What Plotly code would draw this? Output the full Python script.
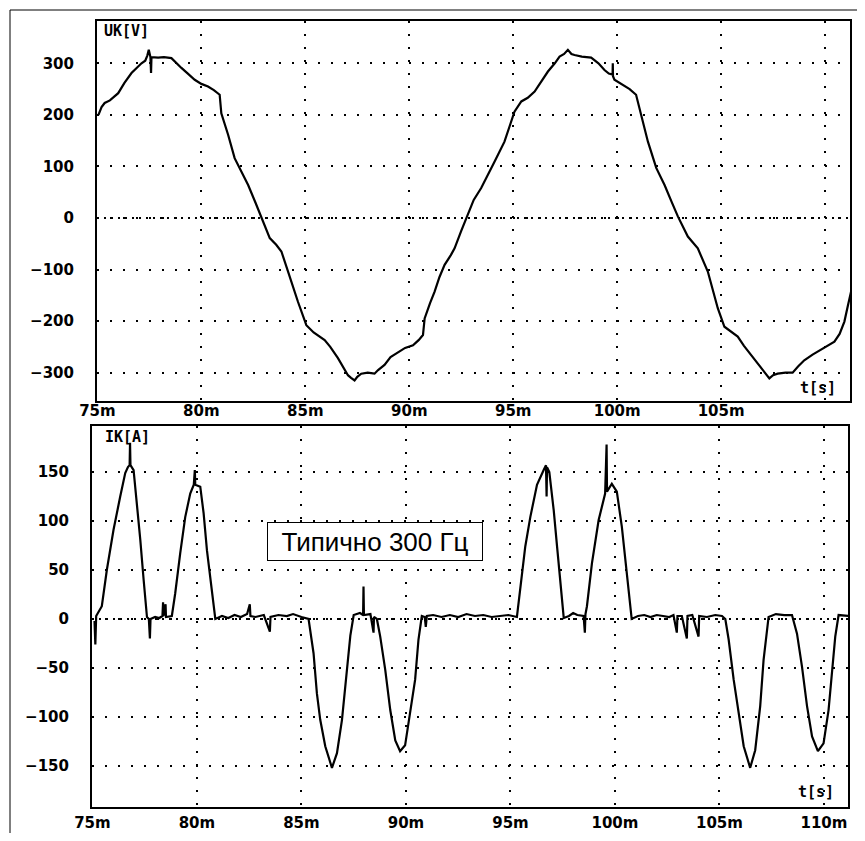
import plotly.graph_objects as go

# The page body has an 8px default margin, so the figure is drawn 8px smaller
# on each side and reference pixel positions are shifted by that offset.
OFF = 8
W, H = 865 - 2 * OFF, 841 - 2 * OFF


def px(x):
    return (x - OFF) / W


def py(y):
    return 1 - (y - OFF) / H


# ---- Voltage trace UK [V] vs time [ms] ----
u_t = [75.05, 75.1, 75.2, 75.35, 75.6, 76.0, 76.3, 76.64, 76.9, 77.12, 77.3, 77.4, 77.47, 77.55, 77.58,
       77.6, 77.92, 78.2, 78.56, 78.8, 79.04, 79.35, 79.68, 80.0, 80.32, 80.6, 80.88, 80.96, 81.29, 81.6,
       81.9, 82.25, 82.6, 82.89, 83.1, 83.29, 83.6, 83.85, 84.17, 84.4, 84.65, 85.05, 85.4, 85.93, 86.2,
       86.57, 87.05, 87.2, 87.37, 87.5, 87.69, 88.0, 88.33, 88.5, 88.81, 89.1, 89.46, 89.8, 90.18, 90.45,
       90.66, 90.74, 91.0, 91.22, 91.45, 91.7, 92.0, 92.18, 92.5, 92.82, 93.1, 93.46, 93.62, 94.1, 94.58,
       95.06, 95.39, 95.7, 96.03, 96.3, 96.67, 97.0, 97.23, 97.45, 97.63, 97.8, 97.95, 98.3, 98.75, 99.1,
       99.39, 99.6, 99.78, 99.79, 99.8, 99.87, 100.1, 100.35, 100.6, 100.91, 101.15, 101.48, 101.88, 102.28,
       102.6, 102.92, 103.4, 103.88, 104.36, 104.6, 104.84, 105.16, 105.5, 105.8, 106.1, 106.44, 107.0,
       107.32, 107.5, 107.72, 108.1, 108.44, 108.7, 109.0, 109.4, 109.8, 110.2, 110.45, 110.7, 110.93,
       111.1, 111.25]
u_v = [200, 206, 215, 223, 228, 242, 262, 281, 292, 300, 305, 315, 326, 312, 281,
       312, 311, 312, 310, 300, 291, 280, 268, 260, 255, 248, 239, 203, 161, 116,
       92, 64, 30, 0, -22, -39, -52, -65, -104, -133, -163, -208, -222, -237, -250,
       -272, -305, -310, -315, -308, -302, -300, -302, -295, -285, -270, -260, -252, -247, -237,
       -227, -195, -165, -143, -115, -91, -72, -59, -25, 6, 35, 58, 70, 109, 148,
       206, 226, 233, 245, 262, 284, 300, 313, 318, 326, 318, 316, 313, 311, 300,
       287, 280, 278, 300, 275, 268, 262, 255, 250, 239, 200, 148, 97, 64,
       33, 3, -36, -59, -104, -140, -175, -211, -222, -230, -248, -266, -295,
       -311, -305, -302, -300, -300, -288, -276, -265, -256, -247, -240, -225, -201,
       -170, -143]

# ---- Current trace IK [A] vs time [ms] ----
i_t = [75.1, 75.14, 75.18, 75.45, 75.69, 76.01, 76.33, 76.57, 76.7, 76.78, 76.8, 76.82, 76.97, 77.13,
       77.29, 77.45, 77.61, 77.7, 77.75, 77.78, 78.0, 78.2, 78.35, 78.38, 78.4, 78.5, 78.52, 78.8, 78.96,
       79.2, 79.44, 79.68, 79.85, 79.9, 79.92, 80.16, 80.32, 80.48, 80.72, 80.88, 81.2, 81.5, 81.8, 82.1,
       82.4, 82.53, 82.56, 82.8, 83.2, 83.49, 83.52, 83.9, 84.3, 84.6, 85.0, 85.34, 85.58, 85.74, 85.9,
       86.14, 86.46, 86.7, 86.94, 87.18, 87.34, 87.5, 87.8, 87.95, 87.97, 87.99, 88.3, 88.45, 88.47, 88.61,
       88.77, 89.01, 89.25, 89.49, 89.72, 89.96, 90.2, 90.44, 90.6, 90.76, 90.9, 90.95, 91.0, 91.3, 91.7,
       92.1, 92.5, 92.9, 93.3, 93.7, 94.1, 94.5, 94.9, 95.31, 95.47, 95.71, 95.95, 96.27, 96.59, 96.7,
       96.73, 96.75, 96.86, 97.07, 97.23, 97.39, 97.55, 97.8, 98.0, 98.2, 98.5, 98.56, 98.59, 98.66, 98.9,
       99.22, 99.53, 99.6, 99.62, 99.85, 100.09, 100.33, 100.52, 100.73, 100.8, 101.1, 101.4, 101.7, 102.0,
       102.3, 102.6, 102.8, 102.96, 102.99, 103.2, 103.44, 103.47, 103.7, 104.0, 104.03, 104.4, 104.8,
       105.12, 105.28, 105.44, 105.68, 105.92, 106.16, 106.47, 106.71, 106.95, 107.11, 107.35, 107.7,
       108.1, 108.47, 108.71, 108.95, 109.19, 109.43, 109.71, 109.98, 110.22, 110.38, 110.54, 110.7,
       111.0, 111.2]
i_a = [-2, -26, 3, 13, 50, 91, 125, 149, 155, 157, 180, 157, 152, 118,
       81, 40, 2, 0, -20, 0, 2, 1, 3, 17, 3, 15, 2, 3, 26,
       67, 104, 128, 137, 152, 137, 135, 108, 70, 31, 0, 3, 1, 4, 2,
       5, 15, 3, 2, 4, -13, 2, 4, 3, 5, 2, 0, -35, -76, -103,
       -130, -152, -137, -103, -55, -17, 4, 6, 4, 33, 4, 5, -14, 2, 0,
       -18, -52, -93, -124, -135, -129, -96, -62, -21, 3, 2, -8, 3, 4, 2,
       4, 2, 5, 3, 4, 2, 3, 4, 2, 30, 74, 104, 137, 152, 157,
       125, 155, 150, 111, 74, 33, 1, 3, 6, 4, 3, -14, 5, 13, 57,
       101, 128, 178, 130, 138, 130, 94, 57, 12, 0, 3, 4, 2, 4,
       3, 2, 4, -14, 3, 3, -20, 3, 4, -18, 3, 2, 4,
       3, 0, -21, -62, -96, -130, -152, -134, -89, -42, 2, 5,
       4, 4, -15, -49, -89, -120, -135, -127, -93, -59, -18, 4,
       3, 3]

x_ticks = [75, 80, 85, 90, 95, 100, 105, 110]
x_labels_top = ["75m", "80m", "85m", "90m", "95m", "100m", "105m", ""]
x_labels_bottom = ["75m", "80m", "85m", "90m", "95m", "100m", "105m", "110m"]
u_ticks = [-300, -200, -100, 0, 100, 200, 300]
i_ticks = [-150, -100, -50, 0, 50, 100, 150]

fig = go.Figure()
fig.add_trace(go.Scatter(x=u_t, y=u_v, mode="lines", line=dict(color="black", width=2.2),
                         xaxis="x", yaxis="y", hoverinfo="skip"))
fig.add_trace(go.Scatter(x=i_t, y=i_a, mode="lines", line=dict(color="black", width=2.2),
                         xaxis="x2", yaxis="y2", hoverinfo="skip"))

tickfont = dict(family="DejaVu Sans", size=15, color="black", weight="bold")
common = dict(showline=True, linecolor="black", linewidth=2, mirror=True,
              showgrid=True, gridcolor="black", gridwidth=2, griddash="2px,11px",
              zeroline=False, ticks="", tickfont=tickfont, fixedrange=True, automargin=False)

fig.update_layout(
    width=W, height=H,
    margin=dict(l=0, r=0, t=0, b=0),
    paper_bgcolor="white", plot_bgcolor="white",
    showlegend=False,
    xaxis=dict(domain=[px(97), px(850)], range=[74.98, 111.2], tickmode="array",
               tickvals=x_ticks, ticktext=x_labels_top, anchor="y", ticklabelstandoff=-5, **common),
    yaxis=dict(domain=[py(401), py(21)], range=[-355, 382], tickmode="array",
               tickvals=u_ticks, anchor="x", ticklabelstandoff=18, **common),
    xaxis2=dict(domain=[px(92), px(848)], range=[74.98, 111.15], tickmode="array",
                tickvals=x_ticks, ticktext=x_labels_bottom, anchor="y2", ticklabelstandoff=1, **common),
    yaxis2=dict(domain=[py(807), py(426)], range=[-192, 197], tickmode="array",
                tickvals=i_ticks, anchor="x2", ticklabelstandoff=18, **common),
)

# dense dotted zero lines
for xr, yr in (("x domain", "y"), ("x2 domain", "y2")):
    fig.add_shape(type="line", xref=xr, yref=yr, x0=0, x1=1, y0=0, y1=0,
                  line=dict(color="black", width=2, dash="2px,5px"), layer="below")

# outer scan frame
fig.add_shape(type="line", xref="paper", yref="paper", x0=px(10), x1=1, y0=py(10), y1=py(10),
              line=dict(color="black", width=1))
fig.add_shape(type="line", xref="paper", yref="paper", x0=px(10), x1=px(10), y0=py(10), y1=0,
              line=dict(color="black", width=1))

labfont = dict(family="DejaVu Sans Mono", size=15, color="black", weight="bold")
for txt, x, y, anc in (("UK[V]", 102, 31, "left"), ("IK[A]", 103, 437, "left"),
                       ("t[s]", 838, 388, "right"), ("t[s]", 836, 792, "right")):
    fig.add_annotation(text=txt, x=px(x), y=py(y), xref="paper", yref="paper",
                       showarrow=False, font=labfont, xanchor=anc, yanchor="middle")

fig.add_annotation(text="Типично 300 Гц", x=px(375), y=py(541.5), xref="paper", yref="paper",
                   showarrow=False, xanchor="center", yanchor="middle",
                   font=dict(family="Liberation Sans", size=26, color="black"),
                   bordercolor="black", borderwidth=1, borderpad=2, bgcolor="white",
                   width=210, height=33, align="center")

fig.write_html("out.html")
